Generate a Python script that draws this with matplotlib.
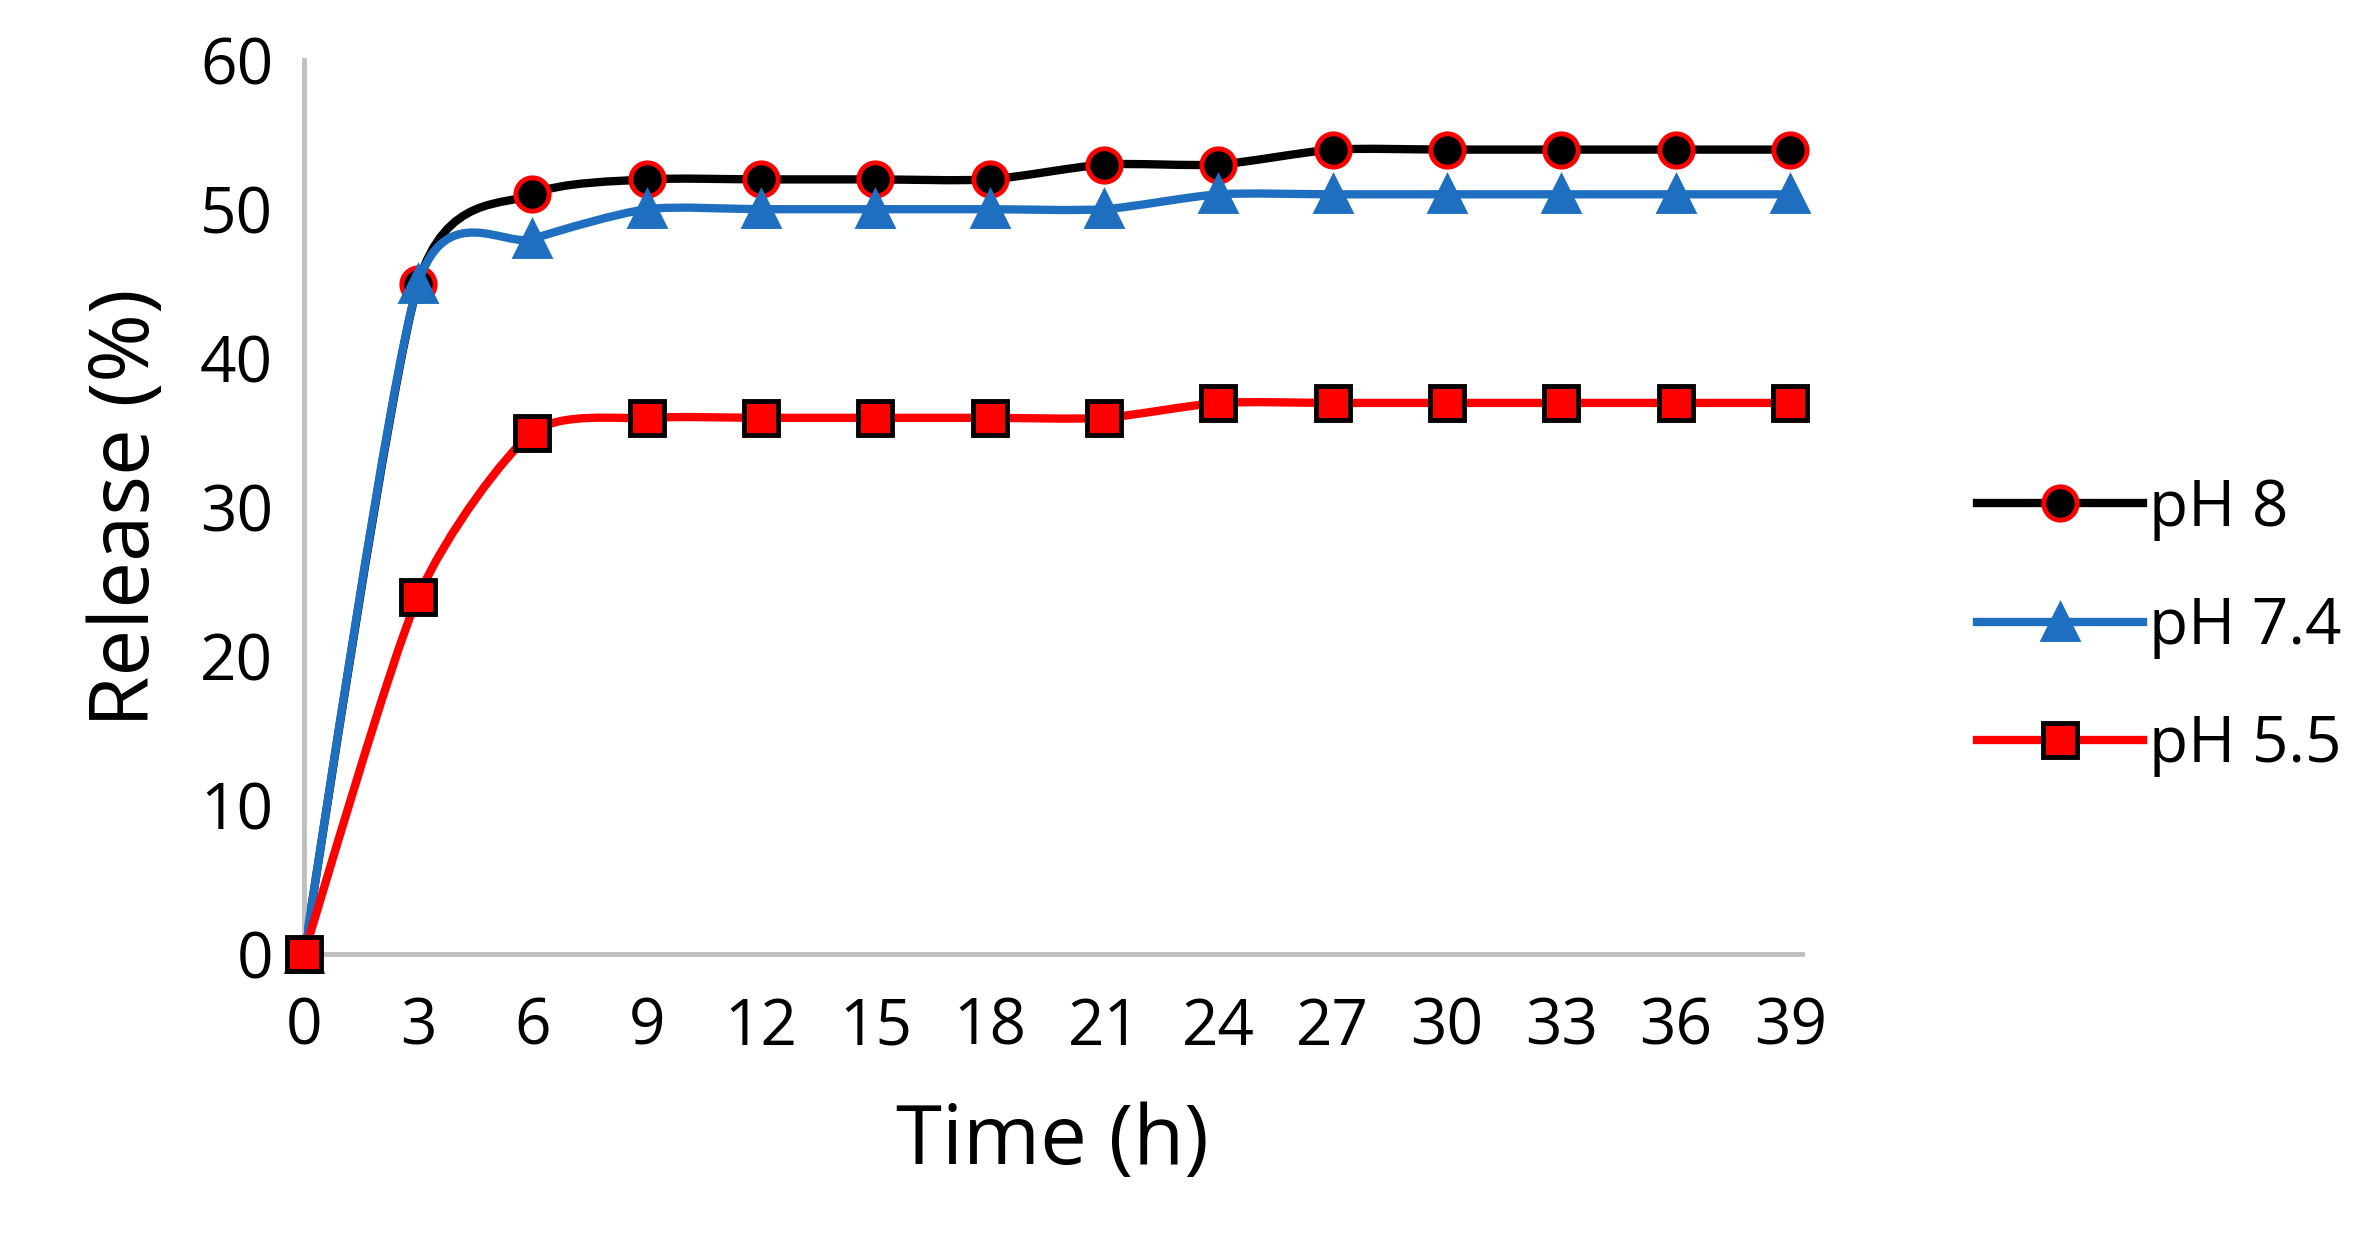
import numpy as np
import matplotlib.pyplot as plt
from matplotlib.path import Path
from matplotlib.patches import PathPatch
from matplotlib.lines import Line2D

plt.rcParams['font.family'] = ['Open Sans', 'DejaVu Sans']

time_h = [0, 3, 6, 9, 12, 15, 18, 21, 24, 27, 30, 33, 36, 39]
ph8 = [0, 45, 51, 52, 52, 52, 52, 53, 53, 54, 54, 54, 54, 54]
ph74 = [0, 45, 48, 50, 50, 50, 50, 50, 51, 51, 51, 51, 51, 51]
ph55 = [0, 24, 35, 36, 36, 36, 36, 36, 37, 37, 37, 37, 37, 37]


def smooth_path(x, y, t=0.12):
    # Excel-like smoothed line as cubic Bezier segments through the data points
    x = np.asarray(x, float)
    y = np.asarray(y, float)
    verts = [(x[0], y[0])]
    codes = [Path.MOVETO]
    n = len(x)
    for i in range(n - 1):
        p0 = i - 1 if i > 0 else i
        p3 = i + 2 if i + 2 < n else i + 1
        c1 = (x[i] + t * (x[i + 1] - x[p0]), y[i] + t * (y[i + 1] - y[p0]))
        c2 = (x[i + 1] - t * (x[p3] - x[i]), y[i + 1] - t * (y[p3] - y[i]))
        verts += [c1, c2, (x[i + 1], y[i + 1])]
        codes += [Path.CURVE4] * 3
    return Path(verts, codes)


fig = plt.figure(figsize=(23.55, 12.54), dpi=100)
ax = fig.add_axes([0.129, 0.239, 0.636, 0.713])

series = [
    (ph8, 'pH 8', 'black', 'o', 'black', 'red'),
    (ph74, 'pH 7.4', '#1F6FC0', '^', '#1F6FC0', '#1F6FC0'),
    (ph55, 'pH 5.5', 'red', 's', 'red', 'black'),
]
handles = []
for k, (vals, name, col, mk, mfc, mec) in enumerate(series):
    ax.add_patch(PathPatch(smooth_path(time_h, vals), fill=False, edgecolor=col,
                           lw=6, zorder=2 + k))
    ax.plot(time_h, vals, ls='none', marker=mk, ms=24, mfc=mfc, mec=mec,
            mew=3.5, zorder=2.5 + k, clip_on=False)
    handles.append(Line2D([], [], color=col, lw=6, marker=mk, ms=24,
                          mfc=mfc, mec=mec, mew=3.5, label=name))

ax.set_xlim(0, 39.3)
ax.set_ylim(0, 60)
ax.set_xticks(time_h)
ax.set_yticks(range(0, 61, 10))
ax.tick_params(labelsize=46, length=0)
ax.tick_params(axis='x', pad=30)
ax.tick_params(axis='y', pad=22)
for s in ['top', 'right']:
    ax.spines[s].set_visible(False)
for s in ['left', 'bottom']:
    ax.spines[s].set_color('#BFBFBF')
    ax.spines[s].set_linewidth(3.5)
ax.set_xlabel('Time (h)', fontsize=60, labelpad=30)
ax.set_ylabel('Release (%)', fontsize=60, labelpad=22)

fig.legend(handles=handles, loc='center left', bbox_to_anchor=(0.815, 0.50),
           frameon=False, fontsize=46, handlelength=2.6, labelspacing=0.85,
           handletextpad=0.1)

fig.savefig('out.png')
